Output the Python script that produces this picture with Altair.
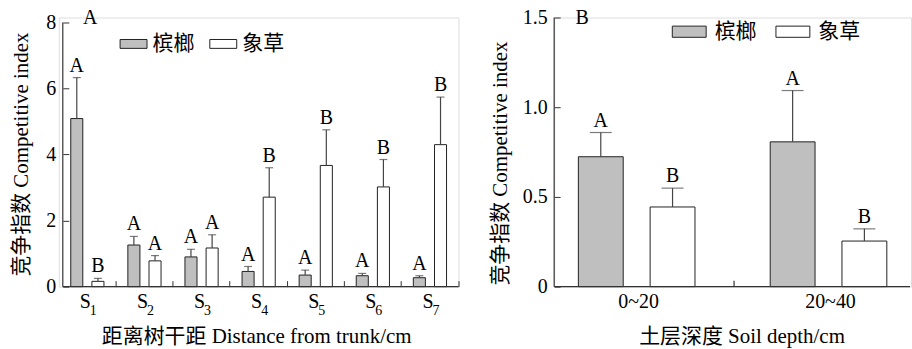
import altair as alt
import pandas as pd

# ---------------- data ----------------
species = ["槟榔", "象草"]
distances = ["S1", "S2", "S3", "S4", "S5", "S6", "S7"]
dist_sub = ["1", "2", "3", "4", "5", "6", "7"]
palm_mean = [5.09, 1.26, 0.90, 0.46, 0.35, 0.33, 0.27]
palm_upper = [6.33, 1.52, 1.13, 0.61, 0.50, 0.40, 0.33]
grass_mean = [0.16, 0.78, 1.17, 2.71, 3.67, 3.02, 4.30]
grass_upper = [0.25, 0.94, 1.57, 3.60, 4.75, 3.85, 5.74]
palm_sig = ["A", "A", "A", "A", "A", "A", "A"]
grass_sig = ["B", "A", "A", "B", "B", "B", "B"]

depths = ["0~20", "20~40"]
palm_d_mean = [0.724, 0.807]
palm_d_upper = [0.859, 1.093]
grass_d_mean = [0.444, 0.254]
grass_d_upper = [0.549, 0.322]
palm_d_sig = ["A", "A"]
grass_d_sig = ["B", "B"]

left_ticks = [0, 2, 4, 6, 8]
right_ticks = [0, 0.5, 1.0, 1.5]

# ---------------- tables ----------------
rows = []
for i, c in enumerate(distances):
    rows.append(dict(cat=c, sub=dist_sub[i], sp=species[0], mean=palm_mean[i], upper=palm_upper[i], sig=palm_sig[i]))
    rows.append(dict(cat=c, sub=dist_sub[i], sp=species[1], mean=grass_mean[i], upper=grass_upper[i], sig=grass_sig[i]))
dfL = pd.DataFrame(rows)

rows = []
for i, c in enumerate(depths):
    rows.append(dict(cat=c, sp=species[0], mean=palm_d_mean[i], upper=palm_d_upper[i], sig=palm_d_sig[i]))
    rows.append(dict(cat=c, sp=species[1], mean=grass_d_mean[i], upper=grass_d_upper[i], sig=grass_d_sig[i]))
dfR = pd.DataFrame(rows)

FONT = "Liberation Serif, Times New Roman, Noto Sans CJK SC"
AX = "#333333"
H = 270
W1 = 401
W2 = 358
RECT = "M-1,-0.33L1,-0.33L1,0.33L-1,0.33Z"


def make_color(lx, ly, size, loff, cpad):
    return alt.Color(
        "sp:N",
        sort=species,
        scale=alt.Scale(domain=species, range=["#bfbfbf", "#ffffff"]),
        legend=alt.Legend(
            title=None, orient="none", legendX=lx, legendY=ly, direction="horizontal",
            columns=2, symbolType=RECT, symbolSize=size, symbolStrokeColor="#222222",
            symbolStrokeWidth=1, labelFont=FONT, labelFontSize=21, labelColor="black",
            labelOffset=loff, columnPadding=cpad, padding=0,
        ),
    )


# ---------------- left panel ----------------
xL = alt.X(
    "cat:N", sort=distances,
    scale=alt.Scale(paddingInner=0, paddingOuter=0),
    axis=alt.Axis(
        title="距离树干距 Distance from trunk/cm", labelExpr="'S'", labelAngle=0,
        labelFont=FONT, labelFontSize=20, labelColor="black", labelBaseline="alphabetic",
        labelPadding=21, labelOffset=-2,
        domain=False, offset=-6, tickSize=6, tickColor=AX, bandPosition=1, tickExtra=False,
        titleFont=FONT, titleFontSize=21, titleFontWeight="normal", titleColor="black",
        titleBaseline="alphabetic", titleX=198, titleY=62,
    ),
)
xoL = alt.XOffset("sp:N", sort=species, scale=alt.Scale(paddingInner=0.43, paddingOuter=0.565))
yscaleL = alt.Scale(domain=[0, 8.15], nice=False)
yL = alt.Y(
    "mean:Q", scale=yscaleL,
    axis=alt.Axis(
        title="竞争指数 Competitive index", values=left_ticks, format="d",
        labelFont=FONT, labelFontSize=20, labelColor="black", labelPadding=7,
        domain=False, offset=-10, tickSize=6, tickColor=AX, grid=False,
        titleFont=FONT, titleFontSize=21, titleFontWeight="normal", titleColor="black",
        titleBaseline="alphabetic", titleX=-41, titleY=137, titleAngle=270,
    ),
)

baseL = alt.Chart(dfL)
barsL = baseL.mark_bar(stroke="#222222", strokeWidth=1).encode(
    x=xL, xOffset=xoL, y=yL, color=make_color(61, 12.5, 729, 5, 13)
)
errL = baseL.mark_rule(color="#444444", strokeWidth=1.2).encode(
    x=alt.X("cat:N", sort=distances), xOffset=xoL, y="mean:Q", y2="upper:Q"
)
capL = baseL.mark_tick(color="#444444", thickness=1.2, size=8, orient="horizontal").encode(
    x=alt.X("cat:N", sort=distances), xOffset=xoL, y="upper:Q"
)
sigL = baseL.mark_text(font=FONT, fontSize=20, baseline="alphabetic", dy=-6, color="black").encode(
    x=alt.X("cat:N", sort=distances), xOffset=xoL, y="upper:Q", text="sig:N"
)
subL = alt.Chart(dfL[dfL.sp == species[0]]).mark_text(
    font=FONT, fontSize=14, baseline="alphabetic", align="center", dx=6, color="black"
).encode(x=alt.X("cat:N", sort=distances), y=alt.value(H + 28), text="sub:N")
axisLineL = alt.Chart(pd.DataFrame({"a": [0], "b": [8]})).mark_rule(color=AX, strokeWidth=1.2).encode(
    x=alt.value(4), y=alt.Y("a:Q", scale=yscaleL), y2="b:Q"
)
baseLineL = alt.Chart(pd.DataFrame({"a": [0]})).mark_rule(color=AX, strokeWidth=1.2).encode(
    x=alt.value(4), x2=alt.value(W1), y=alt.Y("a:Q", scale=yscaleL)
)
panelA = alt.Chart(pd.DataFrame({"t": ["A"]})).mark_text(
    font=FONT, fontSize=20, baseline="alphabetic", align="center", color="black"
).encode(x=alt.value(31.5), y=alt.value(7), text="t:N")

left = alt.layer(barsL, errL, capL, sigL, subL, axisLineL, baseLineL, panelA).properties(width=W1, height=H)

# ---------------- right panel ----------------
xR = alt.X(
    "cat:N", sort=depths,
    scale=alt.Scale(paddingInner=0.14, paddingOuter=0),
    axis=alt.Axis(
        title="土层深度 Soil depth/cm", labelAngle=0,
        labelFont=FONT, labelFontSize=20, labelColor="black", labelBaseline="alphabetic",
        labelPadding=21, labelOffset=2,
        domain=False, offset=-6, tickSize=6, tickOpacity=0,
        titleFont=FONT, titleFontSize=21, titleFontWeight="normal", titleColor="black",
        titleBaseline="alphabetic", titleX=188, titleY=62,
    ),
)
xoR = alt.XOffset("sp:N", sort=species, scale=alt.Scale(paddingInner=0.375, paddingOuter=0.337))
yscaleR = alt.Scale(domain=[0, 1.5], nice=False)
yR = alt.Y(
    "mean:Q", scale=yscaleR,
    axis=alt.Axis(
        title="竞争指数 Competitive index", values=right_ticks,
        labelExpr="datum.value == 0 ? '0' : format(datum.value, '.1f')",
        labelFont=FONT, labelFontSize=20, labelColor="black", labelPadding=7,
        domain=False, offset=-6, tickSize=6, tickColor=AX, grid=False,
        titleFont=FONT, titleFontSize=21, titleFontWeight="normal", titleColor="black",
        titleBaseline="alphabetic", titleX=-54, titleY=146, titleAngle=270,
    ),
)
baseR = alt.Chart(dfR)
barsR = baseR.mark_bar(stroke="#222222", strokeWidth=1).encode(
    x=xR, xOffset=xoR, y=yR, color=make_color(118, -3.5, 1156, 8, 17)
)
errR = baseR.mark_rule(color="#444444", strokeWidth=1.2).encode(
    x=alt.X("cat:N", sort=depths), xOffset=xoR, y="mean:Q", y2="upper:Q"
)
capR = baseR.mark_tick(color="#444444", thickness=1.2, size=22, orient="horizontal").encode(
    x=alt.X("cat:N", sort=depths), xOffset=xoR, y="upper:Q"
)
sigR = baseR.mark_text(font=FONT, fontSize=20, baseline="alphabetic", dy=-6, color="black").encode(
    x=alt.X("cat:N", sort=depths), xOffset=xoR, y="upper:Q", text="sig:N"
)
midTickR = alt.Chart(pd.DataFrame({"cat": [depths[1]]})).mark_rule(
    color=AX, strokeWidth=1.2, xOffset=-12
).encode(
    x=alt.X("cat:N", sort=depths, bandPosition=0), y=alt.value(H), y2=alt.value(H - 6)
)
axisLineR = alt.Chart(pd.DataFrame({"a": [0], "b": [1.5]})).mark_rule(color=AX, strokeWidth=1.2).encode(
    x=alt.value(0), y=alt.Y("a:Q", scale=yscaleR), y2="b:Q"
)
baseLineR = alt.Chart(pd.DataFrame({"a": [0]})).mark_rule(color=AX, strokeWidth=1.2).encode(
    x=alt.value(0), x2=alt.value(W2 - 1), y=alt.Y("a:Q", scale=yscaleR)
)
panelB = alt.Chart(pd.DataFrame({"t": ["B"]})).mark_text(
    font=FONT, fontSize=20, baseline="alphabetic", align="center", color="black"
).encode(x=alt.value(28), y=alt.value(7), text="t:N")

right = alt.layer(barsR, errR, capR, sigR, midTickR, axisLineR, baseLineR, panelB).properties(width=W2, height=H)

chart = (
    alt.hconcat(left, right, spacing=96, bounds="flush")
    .resolve_scale(x="independent", y="independent", xOffset="independent")
    .resolve_legend(color="independent")
    .properties(padding={"left": 10, "top": 6, "right": 0, "bottom": 0})
    .configure_view(stroke=None)
    .configure(background="white")
)

chart.save("out.html", embed_options={"renderer": "svg", "actions": False})
